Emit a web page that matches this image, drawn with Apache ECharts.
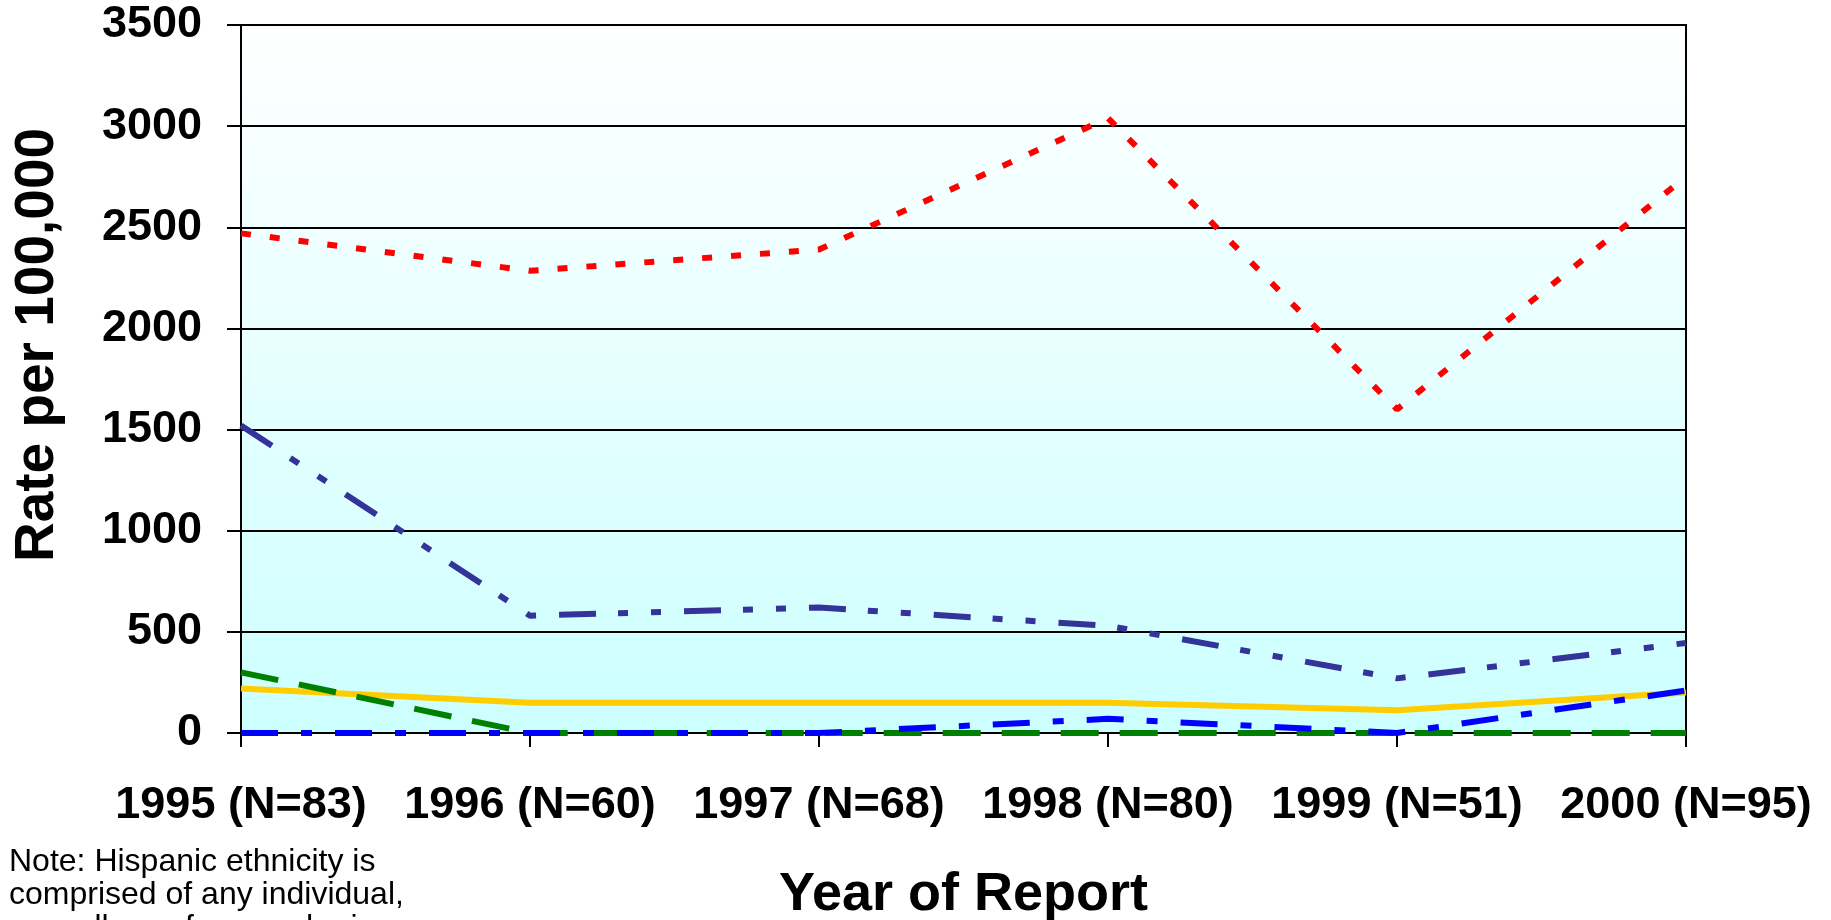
<!DOCTYPE html>
<html>
<head>
<meta charset="utf-8">
<script src="https://cdn.jsdelivr.net/npm/echarts@6/dist/echarts.min.js"></script>
<style>
html,body{margin:0;padding:0;background:#fff;}
#chart{width:1831px;height:920px;}
</style>
</head>
<body>
<div id="chart"></div>
<script>
const categories = ['1995 (N=83)', '1996 (N=60)', '1997 (N=68)', '1998 (N=80)', '1999 (N=51)', '2000 (N=95)'];
const redSeries = [2470, 2285, 2390, 3040, 1600, 2750];
const purpleSeries = [1520, 580, 620, 530, 270, 445];
const yellowSeries = [220, 150, 150, 150, 112, 200];
const greenSeries = [300, 0, 0, 0, 0, 0];
const blueSeries = [0, 0, 0, 70, 0, 210];
const yTicks = [0, 500, 1000, 1500, 2000, 2500, 3000, 3500];

const FONT = '"Liberation Sans", Arial, sans-serif';
const chart = echarts.init(document.getElementById('chart'));

function line(name, data, color, dash, width) {
  return {
    name: name, type: 'line', data: data, symbol: 'none', smooth: false,
    lineStyle: { color: color, width: width, type: dash, cap: 'butt' },
    emphasis: { disabled: true }
  };
}

chart.setOption({
  animation: false,
  backgroundColor: '#ffffff',
  grid: {
    left: 241, right: 145, top: 25, bottom: 187,
    containLabel: false,
    outerBoundsMode: 'none',
    show: true,
    borderColor: '#000', borderWidth: 2,
    backgroundColor: {
      type: 'linear', x: 0, y: 0, x2: 0, y2: 1,
      colorStops: [{ offset: 0, color: '#FFFFFF' }, { offset: 1, color: '#CCFFFF' }]
    }
  },
  xAxis: {
    type: 'category', data: categories, boundaryGap: false,
    axisLine: { lineStyle: { color: '#000', width: 2 } },
    axisTick: { show: true, length: 14, lineStyle: { color: '#000', width: 2 } },
    axisLabel: { interval: 0, margin: 50, color: '#000', fontSize: 45, fontWeight: 'bold', fontFamily: FONT },
    splitLine: { show: false },
    name: 'Year of Report', nameLocation: 'middle', nameGap: 135,
    nameTextStyle: { color: '#000', fontSize: 54, fontWeight: 'bold', fontFamily: FONT }
  },
  yAxis: {
    type: 'value', min: yTicks[0], max: yTicks[yTicks.length - 1], interval: 500,
    axisLine: { show: true, lineStyle: { color: '#000', width: 2 } },
    axisTick: { show: true, length: 14, lineStyle: { color: '#000', width: 2 } },
    axisLabel: { margin: 39, color: '#000', fontSize: 45, fontWeight: 'bold', fontFamily: FONT,
                 formatter: function (v) { return String(v); } },
    splitLine: { show: true, lineStyle: { color: '#000', width: 2 } }
  },
  graphic: [
    {
      type: 'text', x: 38, y: 345, rotation: Math.PI / 2,
      style: { text: 'Rate per 100,000', fill: '#000', font: 'bold 55px ' + FONT, align: 'center', verticalAlign: 'middle' }
    },
    {
      type: 'text', left: 9, top: 846,
      style: {
        text: 'Note: Hispanic ethnicity is\ncomprised of any individual,\nregardless of race, who is',
        fill: '#000', font: '32px ' + FONT, lineHeight: 33
      }
    }
  ],
  series: [
    line('Series 1', redSeries, '#FF0000', [10, 19], 6),
    line('Series 2', purpleSeries, '#333399', [37, 22, 10, 23, 10, 23], 6),
    line('Series 3', yellowSeries, '#FFCC00', 'solid', 6),
    line('Series 4', greenSeries, '#008000', [38, 21], 6),
    line('Series 5', blueSeries, '#0000FF', [37, 23, 11, 23], 6)
  ]
});
</script>
</body>
</html>
